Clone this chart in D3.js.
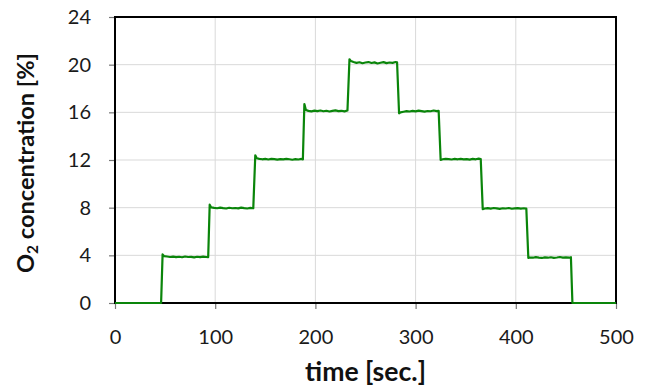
<!DOCTYPE html>
<html><head><meta charset="utf-8">
<script src="https://cdn.jsdelivr.net/npm/d3@7"></script>
<style>body{margin:0;background:#fff}svg{display:block}</style>
</head><body><svg id="c" width="658" height="387"></svg>
<script>
const xTicks = [0,100,200,300,400,500];
const yTicks = [0,4,8,12,16,20,24];
const time = [0,46,
 47.5,49,52,55,58,61,64,67,70,73,76,79,82,85,88,91,93,
 94.5,96,99,102,105,108,111,114,117,120,123,126,129,132,135,138,
 140,141.5,144,147,150,153,156,159,162,165,168,171,174,177,180,183,186,187.5,
 189,190.5,193,196,199,202,205,208,211,214,217,220,223,226,229,232,
 234,235.5,238,241,244,247,250,253,256,259,262,265,268,271,274,277,280,281.5,
 283.5,285,288,291,294,297,300,303,306,309,312,315,318,321,323,
 325,327,330,333,336,339,342,345,348,351,354,357,360,363,365,
 367,369,372,375,378,381,384,387,390,393,396,399,402,405,408,410.5,
 412.5,414,417,420,423,426,429,432,435,438,441,444,447,450,453,455,
 456.5,500];
const o2 = [0,0,
 4.08,3.93,3.9,3.86,3.89,3.85,3.88,3.84,3.9,3.86,3.87,3.83,3.88,3.85,3.89,3.86,3.84,
 8.25,8.02,7.98,7.95,8.0,7.96,7.93,7.99,7.95,7.97,7.94,8.0,7.96,7.93,7.98,7.95,
 12.4,12.15,12.1,12.06,12.09,12.04,12.1,12.07,12.03,12.08,12.05,12.1,12.06,12.02,12.07,12.04,12.09,12.05,
 16.7,16.2,16.12,16.08,16.14,16.1,16.15,16.09,16.13,16.07,16.12,16.16,16.1,16.13,16.08,16.15,
 20.45,20.3,20.22,20.15,20.2,20.12,20.18,20.22,20.14,20.19,20.1,20.16,20.21,20.13,20.18,20.15,20.22,20.2,
 15.92,16.0,16.05,16.1,16.07,16.12,16.08,16.14,16.1,16.06,16.11,16.09,16.15,16.1,16.12,
 12.0,12.06,12.1,12.07,12.04,12.09,12.06,12.1,12.05,12.08,12.03,12.09,12.06,12.11,12.08,
 7.88,7.93,7.96,7.92,7.97,7.94,7.9,7.95,7.93,7.97,7.91,7.94,7.96,7.92,7.95,7.93,
 3.78,3.82,3.8,3.85,3.81,3.78,3.83,3.8,3.84,3.79,3.82,3.86,3.81,3.83,3.8,3.84,
 0,0];

const svg = d3.select('#c');
const L=115, R=616, T=17, B=303;
const x = d3.scaleLinear().domain([0,500]).range([L,R]);
const y = d3.scaleLinear().domain([0,24]).range([B,T]);
const font = 'Lato, "Open Sans", sans-serif';

// grid
svg.append('g').selectAll('line').data(xTicks.slice(1,-1)).join('line')
  .attr('x1',d=>x(d)).attr('x2',d=>x(d)).attr('y1',T).attr('y2',B)
  .attr('stroke','#d9d9d9').attr('stroke-width',1);
svg.append('g').selectAll('line').data(yTicks.slice(1,-1)).join('line')
  .attr('y1',d=>y(d)).attr('y2',d=>y(d)).attr('x1',L).attr('x2',R)
  .attr('stroke','#d9d9d9').attr('stroke-width',1);

// axes
const xAxis = d3.axisBottom(x).tickValues(xTicks).tickSize(6).tickPadding(21);
const yAxis = d3.axisLeft(y).tickValues(yTicks).tickSize(6).tickPadding(18);
const gx = svg.append('g').attr('transform',`translate(0,${B})`).call(xAxis);
const gy = svg.append('g').attr('transform',`translate(${L},0)`).call(yAxis);
[gx,gy].forEach(g=>{
  g.select('.domain').remove();
  g.selectAll('.tick line').attr('stroke','#777').attr('stroke-width',1.2);
  g.selectAll('.tick text').attr('font-family',font).attr('font-size',20).attr('fill','#1a1a1a');
});
gx.selectAll('.tick text').attr('dy','0.71em');

// box
svg.append('rect').attr('x',L).attr('y',T).attr('width',R-L).attr('height',B-T)
  .attr('fill','none').attr('stroke','#000').attr('stroke-width',2);

// data line
const pts = time.map((t,i)=>[t,o2[i]]);
svg.append('path').datum(pts)
  .attr('d', d3.line().x(d=>x(d[0])).y(d=>y(d[1])))
  .attr('fill','none').attr('stroke','#0a850a').attr('stroke-width',2.2)
  .attr('stroke-linejoin','round');

// titles
function fit(t, w){
  const l = t.node().getComputedTextLength();
  const fs = +t.attr('font-size');
  t.attr('font-size', fs*w/l);
}
const xt = svg.append('text').attr('x',365.5).attr('y',381).attr('text-anchor','middle')
  .attr('font-family',font).attr('font-weight','bold').attr('font-size',24).attr('fill','#111')
  .text('time [sec.]');
fit(xt,121);
const yt = svg.append('text').attr('transform',`translate(34,163) rotate(-90)`)
  .attr('text-anchor','middle').attr('font-family',font).attr('font-weight','bold')
  .attr('font-size',24).attr('fill','#111');
yt.append('tspan').text('O');
const sub = yt.append('tspan').attr('font-size','65%').attr('dy','0.25em').text('2');
yt.append('tspan').attr('dy','-0.16em').text(' concentration [%]');
fit(yt,220);
</script></body></html>
